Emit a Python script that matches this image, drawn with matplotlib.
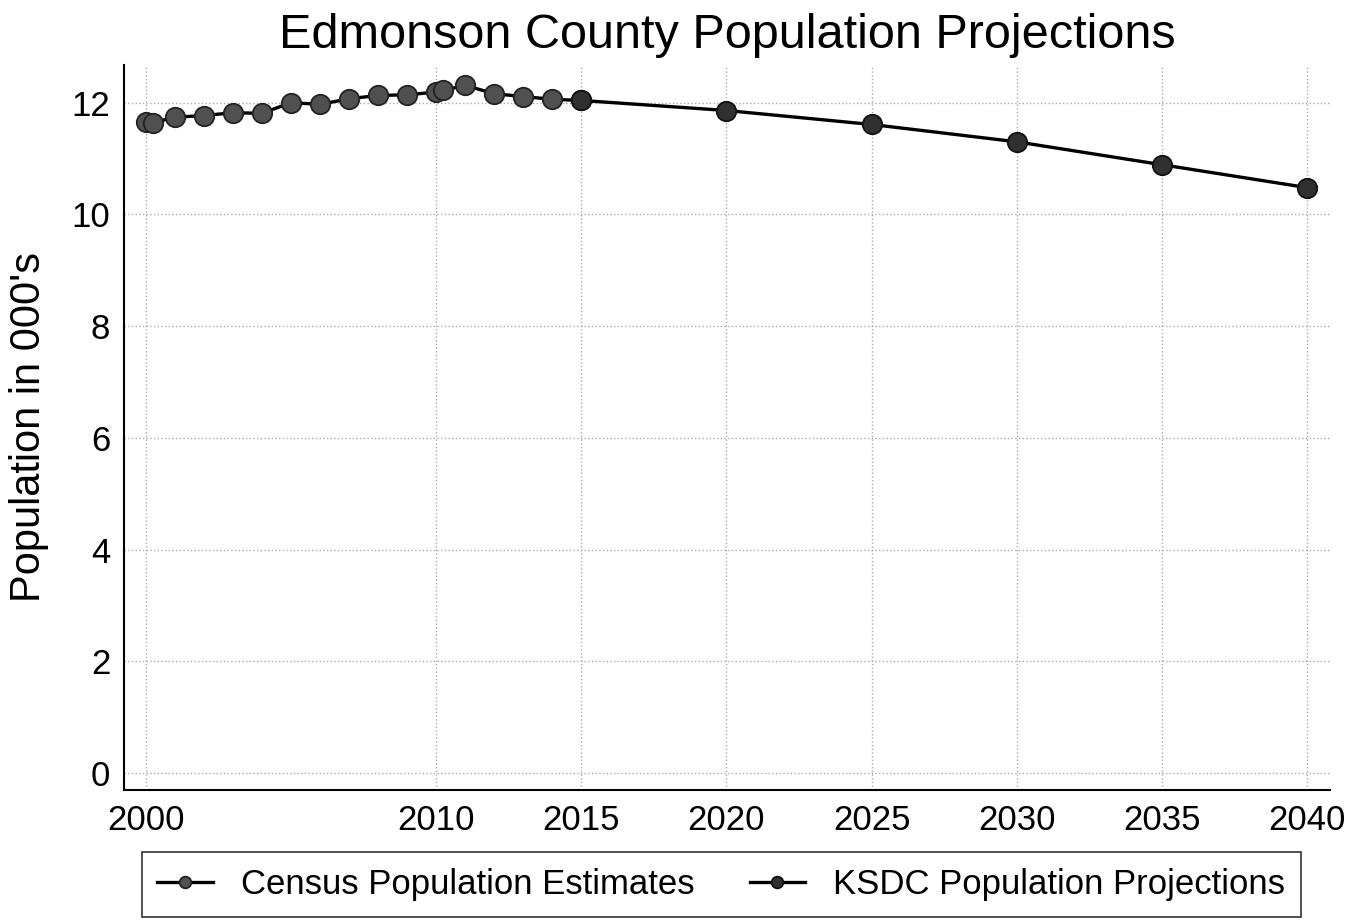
import matplotlib.pyplot as plt

plt.rcParams['font.family'] = ['Liberation Sans', 'DejaVu Sans']

census_years = [2000, 2000.25, 2001, 2002, 2003, 2004, 2005, 2006, 2007, 2008, 2009,
                2010, 2010.25, 2011, 2012, 2013, 2014, 2015]
census_pop = [11.65, 11.64, 11.74, 11.77, 11.82, 11.81, 12.0, 11.97, 12.07, 12.13, 12.14,
              12.19, 12.22, 12.31, 12.16, 12.11, 12.06, 12.04]
ksdc_years = [2015, 2020, 2025, 2030, 2035, 2040]
ksdc_pop = [12.04, 11.86, 11.61, 11.30, 10.89, 10.48]
xticks = [2000, 2010, 2015, 2020, 2025, 2030, 2035, 2040]

fig = plt.figure(figsize=(13.63, 9.24), dpi=100)
ax = fig.add_axes([0.091, 0.145, 0.885, 0.785])

ax.plot(census_years, census_pop, color='black', lw=2.4, marker='o', ms=14,
        mfc='#505050', mec='#222222', mew=1.3, label='Census Population Estimates', zorder=3)
ax.plot(ksdc_years, ksdc_pop, color='black', lw=2.4, marker='o', ms=14,
        mfc='#303030', mec='#111111', mew=1.3, label='KSDC Population Projections', zorder=3)

ax.set_xlim(1999.25, 2040.8)
ax.set_ylim(-0.3, 12.68)
ax.set_xticks(xticks)
ax.set_yticks([0, 2, 4, 6, 8, 10, 12])
ax.tick_params(labelsize=25, length=0, pad=10)
ax.grid(True, color='#aaaaaa', ls=':', lw=1)
for s in ['top', 'right']:
    ax.spines[s].set_visible(False)
for s in ['left', 'bottom']:
    ax.spines[s].set_linewidth(1.5)

ax.set_ylabel("Population in 000's", fontsize=30, labelpad=16)
ax.set_title('Edmonson County Population Projections', fontsize=35, pad=12)

leg = ax.legend(loc='upper center', bbox_to_anchor=(0.495, -0.062), ncol=2, fontsize=25,
                frameon=True, fancybox=False, edgecolor='black', borderpad=0.45,
                columnspacing=1.6, handlelength=1.6, handletextpad=0.8, markerscale=0.6)
leg.get_frame().set_linewidth(1.2)

fig.savefig('out.png', dpi=100)
